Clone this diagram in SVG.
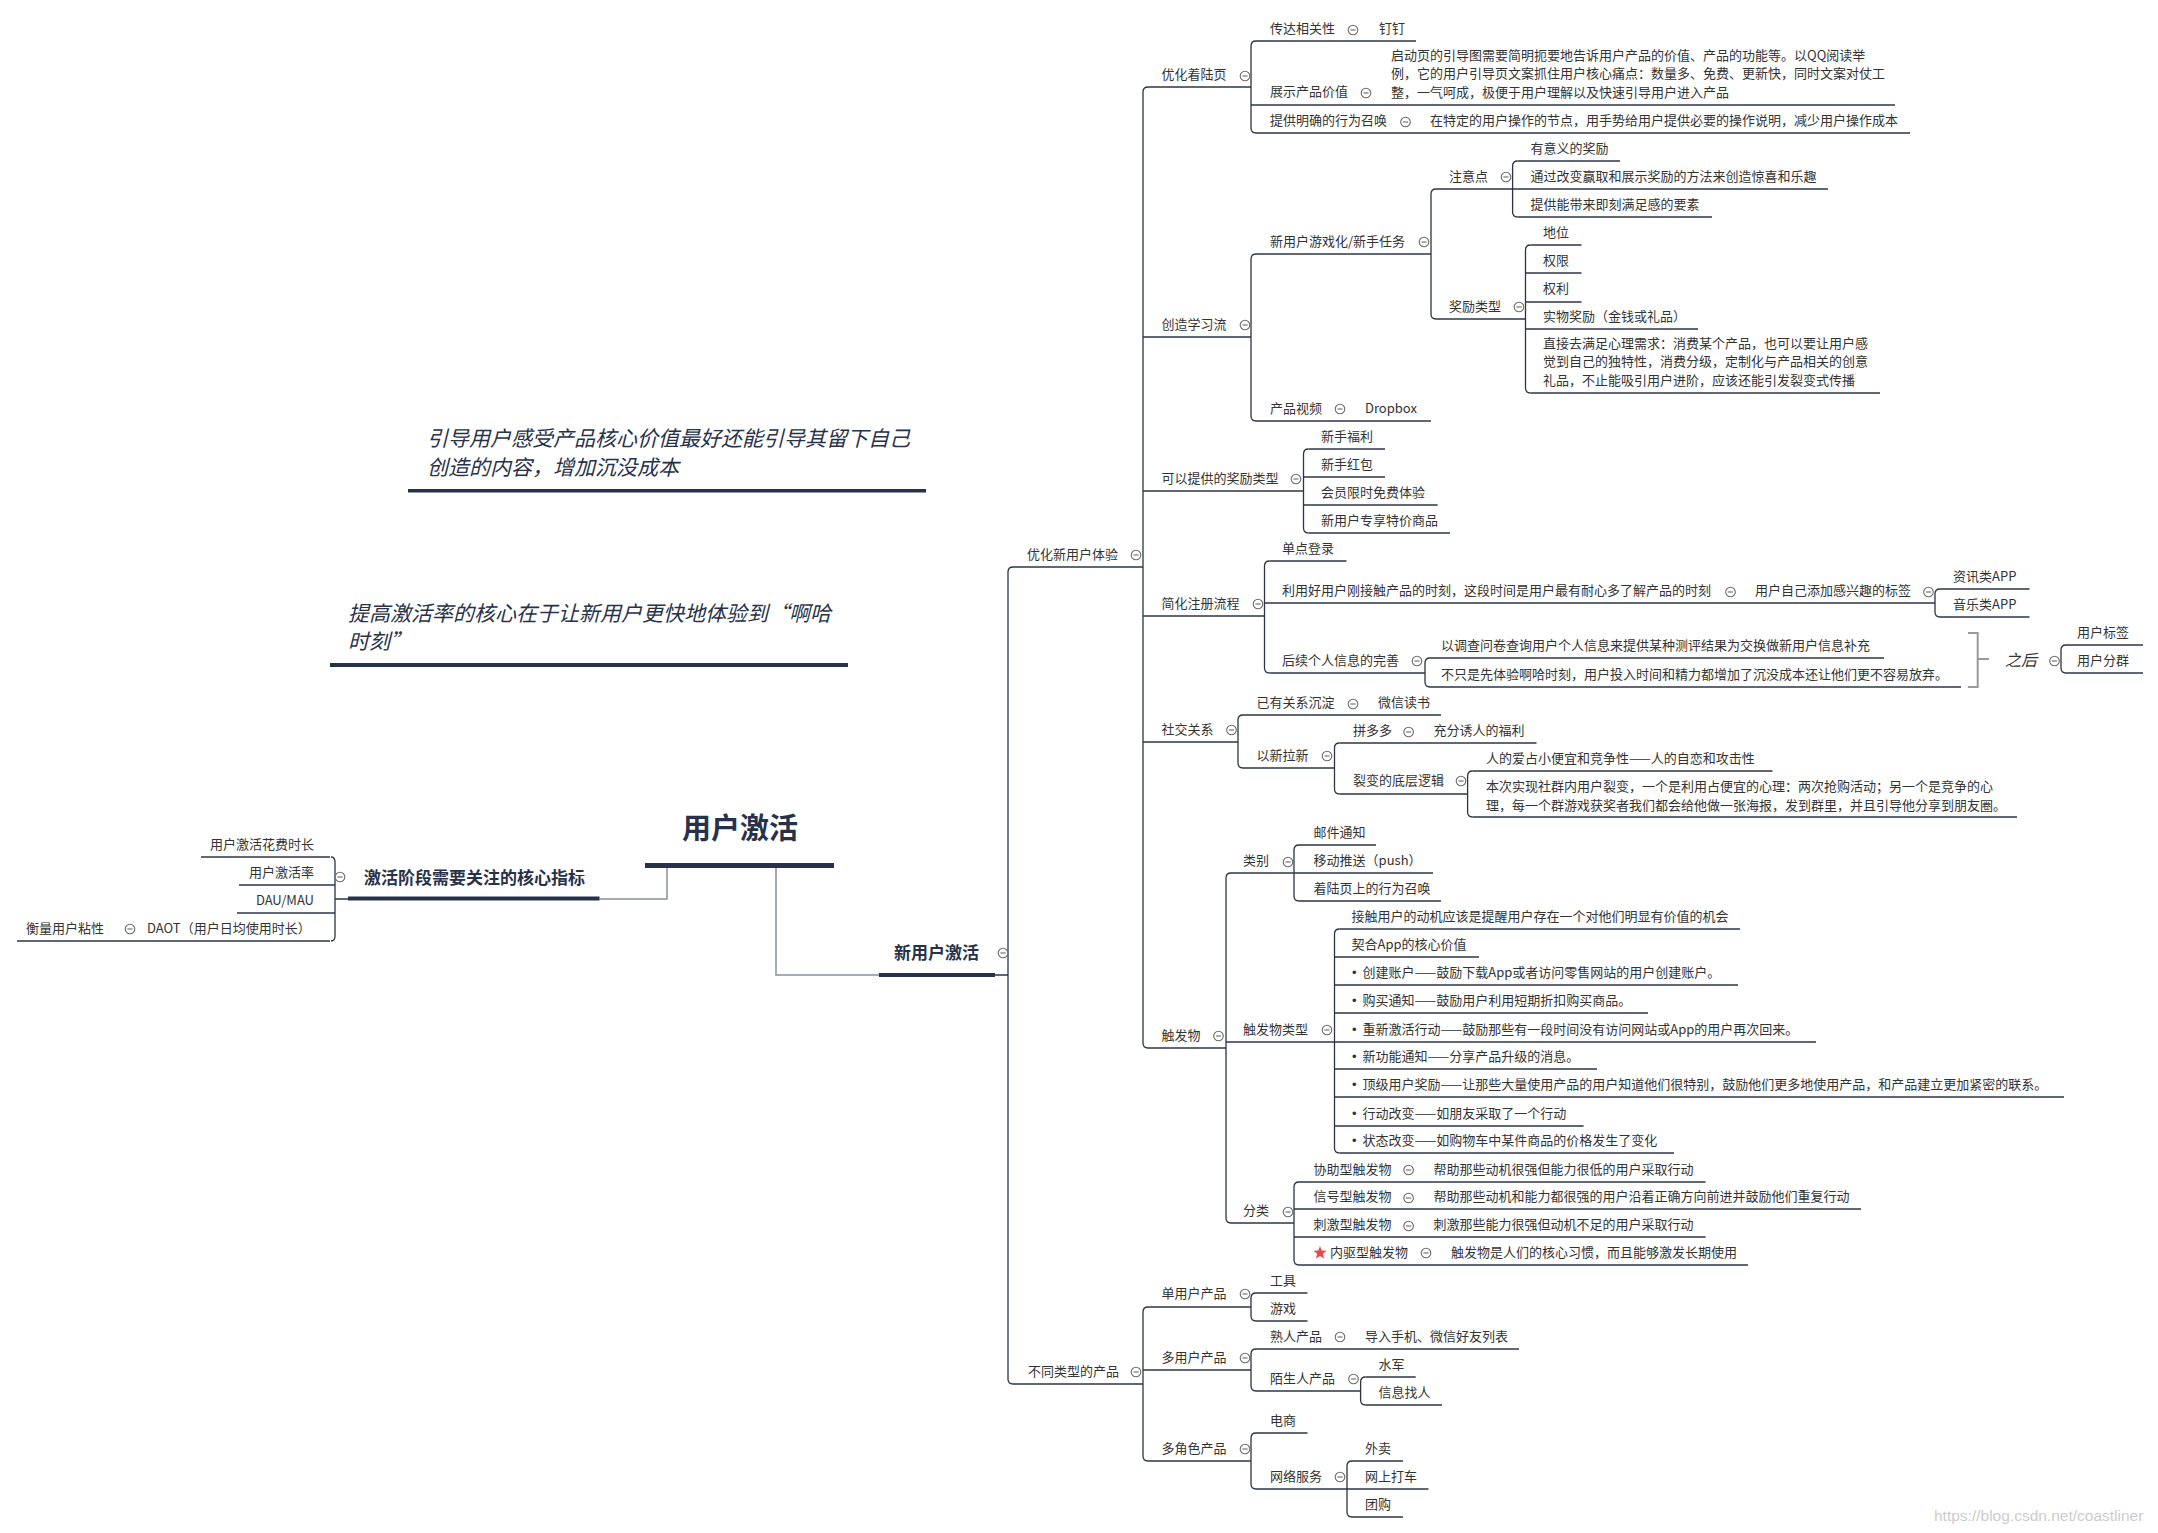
<svg xmlns="http://www.w3.org/2000/svg" width="2158" height="1533" viewBox="0 0 2158 1533">
<style>
text{font-family:"Noto Sans CJK SC","Microsoft YaHei",sans-serif;font-size:13px;fill:#333}
.b{font-weight:bold;fill:#27324a}
.it{font-style:italic;font-size:21px;fill:#27324a}
.ln{stroke:#2d3446;stroke-width:1.3;fill:none}
.gl{stroke:#8a909e;stroke-width:1.5;fill:none}
.bar{fill:#27324a}
.sm{stroke:#999;stroke-width:2;fill:none}
.bu{font-family:"Liberation Sans",Arial,sans-serif}
.wm{font-family:"Liberation Sans",Arial,sans-serif;font-size:15.5px;fill:#cccccc}
</style>
<defs>
<g id="col"><circle r="4.8" fill="#fff" stroke="#6a6a6a" stroke-width="1.1"/><line x1="-2.6" x2="2.6" y1="0" y2="0" stroke="#6a6a6a" stroke-width="1.1"/></g>
</defs>
<rect width="2158" height="1533" fill="#fff"/>

<g id="connectors">
<path class="gl" d="M667,868 V899 H599.5 M776,868 V975 H879"/>
<path class="ln" d="M995,975 H1008 M335,899 H348"/>
<path class="ln" d="M331,857 Q335,857 335,862 V936 Q335,941 331,941"/>
<path class="ln" d="M1013,567 Q1008,567 1008,572 V1379 Q1008,1384 1013,1384"/>
<path class="ln" d="M1148,87 Q1143,87 1143,92 V1043 Q1143,1048 1148,1048"/>
<path class="ln" d="M1256,41 Q1251,41 1251,46 V128 Q1251,133 1256,133"/>
<path class="ln" d="M1256,254 Q1251,254 1251,259 V416 Q1251,421 1256,421"/>
<path class="ln" d="M1436,189 Q1431,189 1431,194 V314 Q1431,319 1436,319"/>
<path class="ln" d="M1517.6,161 Q1512.6,161 1512.6,166 V212 Q1512.6,217 1517.6,217"/>
<path class="ln" d="M1530.5,245 Q1525.5,245 1525.5,250 V388 Q1525.5,393 1530.5,393"/>
<path class="ln" d="M1308.5,449 Q1303.5,449 1303.5,454 V528 Q1303.5,533 1308.5,533"/>
<path class="ln" d="M1269.5,561 Q1264.5,561 1264.5,566 V668 Q1264.5,673 1269.5,673"/>
<path class="ln" d="M1940,589 Q1935,589 1935,594 V612 Q1935,617 1940,617"/>
<path class="ln" d="M1430,658 Q1425,658 1425,663 V682 Q1425,687 1430,687"/>
<path class="ln" d="M2066,645 Q2061,645 2061,650 V668 Q2061,673 2066,673"/>
<path class="sm" d="M1968,633 H1977.7 V687 H1968 M1977.7,659 H1989"/>
<path class="ln" d="M1243,715 Q1238,715 1238,720 V763 Q1238,768 1243,768"/>
<path class="ln" d="M1339.5,743 Q1334.5,743 1334.5,748 V789 Q1334.5,794 1339.5,794"/>
<path class="ln" d="M1472.6,771 Q1467.6,771 1467.6,776 V812 Q1467.6,817 1472.6,817"/>
<path class="ln" d="M1231,873 Q1226,873 1226,878 V1218 Q1226,1223 1231,1223"/>
<path class="ln" d="M1299,845 Q1294,845 1294,850 V896 Q1294,901 1299,901"/>
<path class="ln" d="M1339.5,929 Q1334.5,929 1334.5,934 V1148 Q1334.5,1153 1339.5,1153"/>
<path class="ln" d="M1299,1182 Q1294,1182 1294,1187 V1260 Q1294,1265 1299,1265"/>
<path class="ln" d="M1148,1307 Q1143,1307 1143,1312 V1456 Q1143,1461 1148,1461"/>
<path class="ln" d="M1256,1293 Q1251,1293 1251,1298 V1316 Q1251,1321 1256,1321"/>
<path class="ln" d="M1256,1349 Q1251,1349 1251,1354 V1386 Q1251,1391 1256,1391"/>
<path class="ln" d="M1365.6,1377 Q1360.6,1377 1360.6,1382 V1400 Q1360.6,1405 1365.6,1405"/>
<path class="ln" d="M1256,1433 Q1251,1433 1251,1438 V1484 Q1251,1489 1256,1489"/>
<path class="ln" d="M1352,1461 Q1347,1461 1347,1466 V1512 Q1347,1517 1352,1517"/>
</g>

<g id="notes">
<g id="note1"><text class="it" x="427" y="446">引导用户感受产品核心价值最好还能引导其留下自己</text><text class="it" x="427" y="475">创造的内容，增加沉没成本</text><rect class="bar" x="408" y="489" width="518" height="3.5"/></g>
<g id="note2"><text class="it" x="348" y="621">提高激活率的核心在于让新用户更快地体验到“啊哈</text><text class="it" x="348" y="649">时刻”</text><rect class="bar" x="330" y="663" width="518" height="4"/></g>
</g>

<g id="root"><text class="b" x="740" y="839" text-anchor="middle" style="font-size:29px">用户激活</text><rect class="bar" x="645" y="863" width="189" height="5"/></g>

<g id="metrics"><text class="b" x="364" y="884" style="font-size:17px">激活阶段需要关注的核心指标</text><rect class="bar" x="348" y="896.5" width="251.5" height="4"/><use href="#col" x="340" y="877"/></g>
<g id="m1"><text x="314" y="848.5" text-anchor="end">用户激活花费时长</text><path class="ln" d="M201,857 H330"/></g>
<g id="m2"><text x="314" y="876.5" text-anchor="end">用户激活率</text><path class="ln" d="M239,885 H335"/></g>
<g id="m3"><text x="314" y="904.5" text-anchor="end">DAU/MAU</text><path class="ln" d="M237,913 H335"/></g>
<g id="m4"><text x="26" y="932.5">衡量用户粘性</text><use href="#col" x="130" y="929"/><text x="147" y="932.5">DAOT（用户日均使用时长）</text><path class="ln" d="M17,941 H330"/></g>

<g id="newuser"><text class="b" x="894" y="959" style="font-size:17px">新用户激活</text><rect class="bar" x="879" y="973" width="116" height="4"/><use href="#col" x="1003" y="953"/></g>

<g id="opt"><text x="1027" y="558.5">优化新用户体验</text><use href="#col" x="1136" y="555"/><path class="ln" d="M1013,567 H1143"/></g>
<g id="types"><text x="1028" y="1375.5">不同类型的产品</text><use href="#col" x="1136" y="1372"/><path class="ln" d="M1013,1384 H1143"/></g>

<g id="landing"><text x="1161.5" y="78.5">优化着陆页</text><use href="#col" x="1245" y="76"/><path class="ln" d="M1148,87 H1251"/></g>
<g id="l1"><text x="1270" y="32.5">传达相关性</text><use href="#col" x="1353" y="30"/><text x="1379" y="32.5">钉钉</text><path class="ln" d="M1256,41 H1416"/></g>
<g id="l2"><text x="1270" y="95.5">展示产品价值</text><use href="#col" x="1366" y="93"/><text x="1391" y="59.5">启动页的引导图需要简明扼要地告诉用户产品的价值、产品的功能等。以QQ阅读举</text><text x="1391" y="78">例，它的用户引导页文案抓住用户核心痛点：数量多、免费、更新快，同时文案对仗工</text><text x="1391" y="96.5">整，一气呵成，极便于用户理解以及快速引导用户进入产品</text><path class="ln" d="M1251,105 H1895"/></g>
<g id="l3"><text x="1270" y="124.5">提供明确的行为召唤</text><use href="#col" x="1405.5" y="122"/><text x="1430" y="124.5">在特定的用户操作的节点，用手势给用户提供必要的操作说明，减少用户操作成本</text><path class="ln" d="M1256,133 H1910"/></g>

<g id="learn"><text x="1161.5" y="328.5">创造学习流</text><use href="#col" x="1245" y="325"/><path class="ln" d="M1143,337 H1251"/></g>
<g id="game"><text x="1270" y="245.5">新用户游戏化/新手任务</text><use href="#col" x="1424" y="242"/><path class="ln" d="M1256,254 H1431"/></g>
<g id="attn"><text x="1449" y="180.5">注意点</text><use href="#col" x="1506" y="177"/><path class="ln" d="M1436,189 H1512.6"/></g>
<g id="a1"><text x="1530.5" y="152.5">有意义的奖励</text><path class="ln" d="M1517.6,161 H1620"/></g>
<g id="a2"><text x="1530.5" y="180.5">通过改变赢取和展示奖励的方法来创造惊喜和乐趣</text><path class="ln" d="M1512.6,189 H1828"/></g>
<g id="a3"><text x="1530.5" y="208.5">提供能带来即刻满足感的要素</text><path class="ln" d="M1517.6,217 H1712"/></g>
<g id="reward"><text x="1449" y="310.5">奖励类型</text><use href="#col" x="1519" y="307"/><path class="ln" d="M1436,319 H1525.5"/></g>
<g id="r1"><text x="1543" y="236.5">地位</text><path class="ln" d="M1530.5,245 H1581.5"/></g>
<g id="r2"><text x="1543" y="264.5">权限</text><path class="ln" d="M1525.5,273 H1581.5"/></g>
<g id="r3"><text x="1543" y="293">权利</text><path class="ln" d="M1525.5,302 H1581.5"/></g>
<g id="r4"><text x="1543" y="320.5">实物奖励（金钱或礼品）</text><path class="ln" d="M1525.5,329 H1698"/></g>
<g id="r5"><text x="1543" y="347.5">直接去满足心理需求：消费某个产品，也可以要让用户感</text><text x="1543" y="366">觉到自己的独特性，消费分级，定制化与产品相关的创意</text><text x="1543" y="384.5">礼品，不止能吸引用户进阶，应该还能引发裂变式传播</text><path class="ln" d="M1530.5,393 H1880"/></g>
<g id="video"><text x="1270" y="412.5">产品视频</text><use href="#col" x="1340" y="409"/><text x="1365" y="412.5">Dropbox</text><path class="ln" d="M1256,421 H1431"/></g>

<g id="bonus"><text x="1161.5" y="482.5">可以提供的奖励类型</text><use href="#col" x="1296" y="479"/><path class="ln" d="M1143,491 H1303.5"/></g>
<g id="b1"><text x="1321" y="440.5">新手福利</text><path class="ln" d="M1308.5,449 H1385"/></g>
<g id="b2"><text x="1321" y="468.5">新手红包</text><path class="ln" d="M1303.5,477 H1385"/></g>
<g id="b3"><text x="1321" y="496.5">会员限时免费体验</text><path class="ln" d="M1303.5,505 H1437.6"/></g>
<g id="b4"><text x="1321" y="524.5">新用户专享特价商品</text><path class="ln" d="M1308.5,533 H1450"/></g>

<g id="reg"><text x="1161.5" y="607.5">简化注册流程</text><use href="#col" x="1258" y="604"/><path class="ln" d="M1143,616 H1264.5"/></g>
<g id="g1"><text x="1282" y="552.5">单点登录</text><path class="ln" d="M1269.5,561 H1346.5"/></g>
<g id="g2"><text x="1282" y="594.5">利用好用户刚接触产品的时刻，这段时间是用户最有耐心多了解产品的时刻</text><use href="#col" x="1730.5" y="592"/><text x="1755" y="594.5">用户自己添加感兴趣的标签</text><use href="#col" x="1928.5" y="592"/><path class="ln" d="M1264.5,603 H1935"/></g>
<g id="g2a"><text x="1953" y="580.5">资讯类APP</text><path class="ln" d="M1940,589 H2029.5"/></g>
<g id="g2b"><text x="1953" y="608.5">音乐类APP</text><path class="ln" d="M1940,617 H2029.5"/></g>
<g id="g3"><text x="1282" y="664.5">后续个人信息的完善</text><use href="#col" x="1417" y="661"/><path class="ln" d="M1269.5,673 H1425"/></g>
<g id="g3a"><text x="1441" y="649.5">以调查问卷查询用户个人信息来提供某种测评结果为交换做新用户信息补充</text><path class="ln" d="M1430,658 H1884"/></g>
<g id="g3b"><text x="1441" y="678.5">不只是先体验啊哈时刻，用户投入时间和精力都增加了沉没成本还让他们更不容易放弃。</text><path class="ln" d="M1430,687 H1961"/></g>
<g id="after"><text x="2005" y="666" style="font-style:italic;font-size:16px">之后</text><use href="#col" x="2054.5" y="661"/></g>
<g id="af1"><text x="2077" y="636.5">用户标签</text><path class="ln" d="M2066,645 H2143"/></g>
<g id="af2"><text x="2077" y="664.5">用户分群</text><path class="ln" d="M2066,673 H2143"/></g>

<g id="social"><text x="1161.5" y="733.5">社交关系</text><use href="#col" x="1231.5" y="730"/><path class="ln" d="M1143,742 H1238"/></g>
<g id="s1"><text x="1256.5" y="706.5">已有关系沉淀</text><use href="#col" x="1353" y="704"/><text x="1378" y="706.5">微信读书</text><path class="ln" d="M1243,715 H1441"/></g>
<g id="s2"><text x="1256.5" y="759.5">以新拉新</text><use href="#col" x="1327" y="756"/><path class="ln" d="M1243,768 H1334.5"/></g>
<g id="s2a"><text x="1353" y="735">拼多多</text><use href="#col" x="1408.6" y="732"/><text x="1433.5" y="735">充分诱人的福利</text><path class="ln" d="M1339.5,743 H1536.5"/></g>
<g id="s2b"><text x="1353" y="784.5">裂变的底层逻辑</text><use href="#col" x="1461" y="781"/><path class="ln" d="M1339.5,794 H1467.6"/></g>
<g id="s2b1"><text x="1486" y="762.5">人的爱占小便宜和竞争性——人的自恋和攻击性</text><path class="ln" d="M1472.6,771 H1772.5"/></g>
<g id="s2b2"><text x="1486" y="791">本次实现社群内用户裂变，一个是利用占便宜的心理：两次抢购活动；另一个是竞争的心</text><text x="1486" y="809.5">理，每一个群游戏获奖者我们都会给他做一张海报，发到群里，并且引导他分享到朋友圈。</text><path class="ln" d="M1472.6,817 H2017"/></g>

<g id="trigger"><text x="1161.5" y="1039.5">触发物</text><use href="#col" x="1218.5" y="1036"/><path class="ln" d="M1148,1048 H1226"/></g>
<g id="cat"><text x="1243" y="864.5">类别</text><use href="#col" x="1288" y="862"/><path class="ln" d="M1231,873 H1294"/></g>
<g id="c1"><text x="1313.6" y="836.5">邮件通知</text><path class="ln" d="M1299,845 H1376"/></g>
<g id="c2"><text x="1313.6" y="864.5">移动推送（push）</text><path class="ln" d="M1294,873 H1433"/></g>
<g id="c3"><text x="1313.6" y="892.5">着陆页上的行为召唤</text><path class="ln" d="M1299,901 H1441"/></g>
<g id="ttype"><text x="1243" y="1033.5">触发物类型</text><use href="#col" x="1327" y="1030"/><path class="ln" d="M1226,1042 H1334.5"/></g>
<g id="t1"><text x="1351.6" y="920.5">接触用户的动机应该是提醒用户存在一个对他们明显有价值的机会</text><path class="ln" d="M1339.5,929 H1740"/></g>
<g id="t2"><text x="1351.6" y="948.5">契合App的核心价值</text><path class="ln" d="M1334.5,957 H1479"/></g>
<g id="t3"><text class="bu" x="1352" y="976.5">•</text><text x="1362.5" y="976.5">创建账户——鼓励下载App或者访问零售网站的用户创建账户。</text><path class="ln" d="M1334.5,985 H1738"/></g>
<g id="t4"><text class="bu" x="1352" y="1004.5">•</text><text x="1362.5" y="1004.5">购买通知——鼓励用户利用短期折扣购买商品。</text><path class="ln" d="M1334.5,1013 H1648"/></g>
<g id="t5"><text class="bu" x="1352" y="1033.5">•</text><text x="1362.5" y="1033.5">重新激活行动——鼓励那些有一段时间没有访问网站或App的用户再次回来。</text><path class="ln" d="M1334.5,1042 H1816"/></g>
<g id="t6"><text class="bu" x="1352" y="1060.5">•</text><text x="1362.5" y="1060.5">新功能通知——分享产品升级的消息。</text><path class="ln" d="M1334.5,1069 H1597"/></g>
<g id="t7"><text class="bu" x="1352" y="1088.5">•</text><text x="1362.5" y="1088.5">顶级用户奖励——让那些大量使用产品的用户知道他们很特别，鼓励他们更多地使用产品，和产品建立更加紧密的联系。</text><path class="ln" d="M1334.5,1097 H2064"/></g>
<g id="t8"><text class="bu" x="1352" y="1117.5">•</text><text x="1362.5" y="1117.5">行动改变——如朋友采取了一个行动</text><path class="ln" d="M1334.5,1126 H1583.6"/></g>
<g id="t9"><text class="bu" x="1352" y="1144.5">•</text><text x="1362.5" y="1144.5">状态改变——如购物车中某件商品的价格发生了变化</text><path class="ln" d="M1339.5,1153 H1674"/></g>
<g id="cls"><text x="1243" y="1214.5">分类</text><use href="#col" x="1288" y="1212"/><path class="ln" d="M1231,1223 H1294"/></g>
<g id="k1"><text x="1313.6" y="1173.5">协助型触发物</text><use href="#col" x="1408.6" y="1170"/><text x="1433.5" y="1173.5">帮助那些动机很强但能力很低的用户采取行动</text><path class="ln" d="M1299,1182 H1705.6"/></g>
<g id="k2"><text x="1313.6" y="1200.5">信号型触发物</text><use href="#col" x="1408.6" y="1198"/><text x="1433.5" y="1200.5">帮助那些动机和能力都很强的用户沿着正确方向前进并鼓励他们重复行动</text><path class="ln" d="M1294,1209 H1861"/></g>
<g id="k3"><text x="1313.6" y="1228.5">刺激型触发物</text><use href="#col" x="1408.6" y="1226"/><text x="1433.5" y="1228.5">刺激那些能力很强但动机不足的用户采取行动</text><path class="ln" d="M1294,1237 H1705.6"/></g>
<g id="k4"><polygon points="1320,1246 1321.7,1250.6 1326.6,1250.8 1322.8,1253.8 1324.1,1258.6 1320,1255.9 1315.9,1258.6 1317.2,1253.8 1313.4,1250.8 1318.3,1250.6" fill="#e84a4a"/><text x="1330" y="1256.5">内驱型触发物</text><use href="#col" x="1426" y="1253"/><text x="1451" y="1256.5">触发物是人们的核心习惯，而且能够激发长期使用</text><path class="ln" d="M1299,1265 H1748"/></g>

<g id="single"><text x="1161.5" y="1297.5">单用户产品</text><use href="#col" x="1245" y="1294"/><path class="ln" d="M1148,1307 H1251"/></g>
<g id="p1"><text x="1270" y="1284.5">工具</text><path class="ln" d="M1256,1293 H1307.5"/></g>
<g id="p2"><text x="1270" y="1312.5">游戏</text><path class="ln" d="M1256,1321 H1307.5"/></g>
<g id="multi"><text x="1161.5" y="1361.5">多用户产品</text><use href="#col" x="1245" y="1358"/><path class="ln" d="M1143,1370 H1251"/></g>
<g id="p3"><text x="1270" y="1340.5">熟人产品</text><use href="#col" x="1340" y="1337"/><text x="1365" y="1340.5">导入手机、微信好友列表</text><path class="ln" d="M1256,1349 H1519"/></g>
<g id="p4"><text x="1270" y="1382.5">陌生人产品</text><use href="#col" x="1353.5" y="1379"/><path class="ln" d="M1256,1391 H1360.6"/></g>
<g id="p4a"><text x="1378.5" y="1368.5">水军</text><path class="ln" d="M1365.6,1377 H1415.7"/></g>
<g id="p4b"><text x="1378.5" y="1396.5">信息找人</text><path class="ln" d="M1365.6,1405 H1442"/></g>
<g id="role"><text x="1161.5" y="1452.5">多角色产品</text><use href="#col" x="1245" y="1449"/><path class="ln" d="M1148,1461 H1251"/></g>
<g id="p5"><text x="1270" y="1424.5">电商</text><path class="ln" d="M1256,1433 H1307.5"/></g>
<g id="p6"><text x="1270" y="1480.5">网络服务</text><use href="#col" x="1340" y="1477"/><path class="ln" d="M1256,1489 H1347"/></g>
<g id="p6a"><text x="1365" y="1452.5">外卖</text><path class="ln" d="M1352,1461 H1403"/></g>
<g id="p6b"><text x="1365" y="1480.5">网上打车</text><path class="ln" d="M1347,1489 H1428.5"/></g>
<g id="p6c"><text x="1365" y="1508.5">团购</text><path class="ln" d="M1352,1517 H1403"/></g>

<text class="wm" x="1934" y="1521">https://blog.csdn.net/coastliner</text>
</svg>
